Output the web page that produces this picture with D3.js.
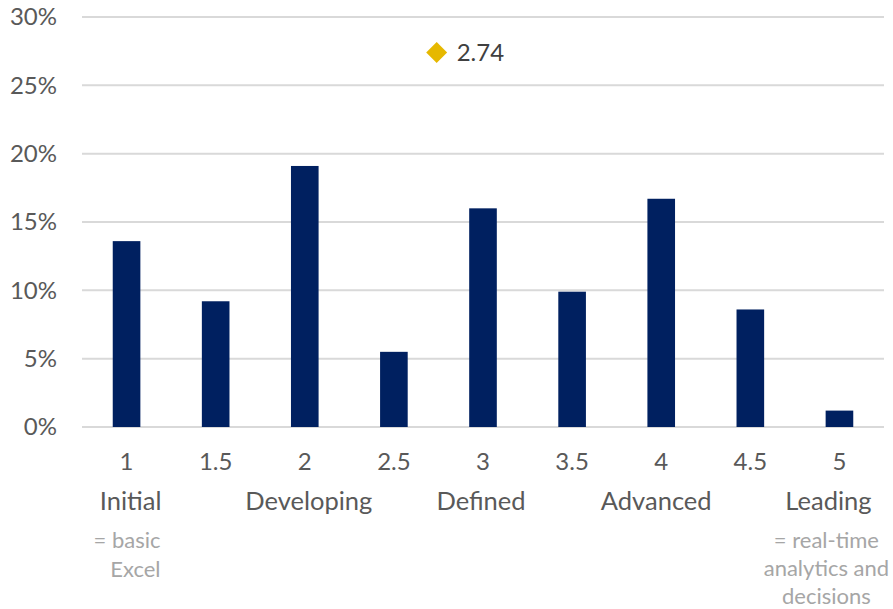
<!DOCTYPE html>
<html>
<head>
<meta charset="utf-8">
<script src="https://cdn.jsdelivr.net/npm/d3@7"></script>
<style>
  body { margin: 0; background: #fff; }
  text { font-family: Lato, "Open Sans", sans-serif; }
</style>
</head>
<body>
<div id="chart"></div>
<script>
// data
const levels = ["1", "1.5", "2", "2.5", "3", "3.5", "4", "4.5", "5"];
const shares = [13.6, 9.2, 19.1, 5.5, 16.0, 9.9, 16.7, 8.6, 1.2];
const yTicks = [0, 5, 10, 15, 20, 25, 30];
const stageNames = ["Initial", "Developing", "Defined", "Advanced", "Leading"];
const stageLevels = [1, 2, 3, 4, 5];
const stageNudge = [4, 4, -2, -5, -11];  // text boxes sit a bit off centre
const averageLevel = 2.74;
const averageY = 27.4;

const W = 893, H = 609;
const margin = { top: 17, right: 9, bottom: 182, left: 82 };
const width = W - margin.left - margin.right;
const height = H - margin.top - margin.bottom;

const svg = d3.select("#chart").append("svg")
    .attr("width", W)
    .attr("height", H);

const g = svg.append("g")
    .attr("transform", `translate(${margin.left},${margin.top})`);

const x = d3.scaleBand().domain(levels).range([0, width]).paddingInner(0.69).paddingOuter(0.345);
const y = d3.scaleLinear().domain([0, 30]).range([height, 0]);

// linear scale for the level value, lined up with the band centres
const xLevel = d3.scaleLinear()
    .domain([1, 5])
    .range([x("1") + x.bandwidth() / 2, x("5") + x.bandwidth() / 2]);

// gridlines
g.selectAll(".grid")
    .data(yTicks)
    .enter().append("line")
    .attr("class", "grid")
    .attr("x1", 0)
    .attr("x2", width)
    .attr("y1", d => y(d))
    .attr("y2", d => y(d))
    .attr("stroke", "#d9d9d9")
    .attr("stroke-width", 2);

// y axis labels
const yAxis = g.append("g")
    .call(d3.axisLeft(y).tickValues(yTicks).tickFormat(d => d + "%").tickSize(0).tickPadding(25));
yAxis.select(".domain").remove();
yAxis.selectAll("text")
    .attr("fill", "#595959")
    .style("font-size", "24px")
    .style("font-family", "Lato, sans-serif");

// bars
g.selectAll(".bar")
    .data(shares)
    .enter().append("rect")
    .attr("class", "bar")
    .attr("x", (d, i) => x(levels[i]))
    .attr("width", x.bandwidth())
    .attr("y", d => y(d))
    .attr("height", d => y(0) - y(d))
    .attr("fill", "#002060");

// x axis tick labels
const xAxis = g.append("g")
    .attr("transform", `translate(0,${height})`)
    .call(d3.axisBottom(x).tickSize(0).tickPadding(26));
xAxis.select(".domain").remove();
xAxis.selectAll("text")
    .attr("fill", "#595959")
    .style("font-size", "24px")
    .style("font-family", "Lato, sans-serif");

// stage names
g.selectAll(".stage")
    .data(stageNames)
    .enter().append("text")
    .attr("class", "stage")
    .attr("x", (d, i) => xLevel(stageLevels[i]) + stageNudge[i])
    .attr("y", height + 83)
    .attr("text-anchor", "middle")
    .attr("fill", "#595959")
    .style("font-size", "25.5px")
    .text(d => d);

// grey notes under first and last stage
const noteLeft = ["= basic", "Excel"];
const noteRight = ["= real-time", "analytics and", "decisions"];

g.append("text")
    .attr("x", xLevel(1) + 34)
    .attr("y", height + 121)
    .attr("text-anchor", "end")
    .attr("fill", "#a6a6a6")
    .style("font-size", "22px")
    .selectAll("tspan")
    .data(noteLeft)
    .enter().append("tspan")
    .attr("x", xLevel(1) + 34)
    .attr("dy", (d, i) => i === 0 ? 0 : 29)
    .text(d => d);

g.append("text")
    .attr("x", xLevel(5) - 13)
    .attr("y", height + 121)
    .attr("text-anchor", "middle")
    .attr("fill", "#a6a6a6")
    .style("font-size", "22px")
    .selectAll("tspan")
    .data(noteRight)
    .enter().append("tspan")
    .attr("x", xLevel(5) - 13)
    .attr("dy", (d, i) => i === 0 ? 0 : 28)
    .text(d => d);

// average marker
g.append("path")
    .attr("d", d3.symbol(d3.symbolSquare, 220)())
    .attr("transform", `translate(${xLevel(averageLevel)},${y(averageY)}) rotate(45)`)
    .attr("fill", "#e6b800");

g.append("text")
    .attr("x", xLevel(averageLevel) + 20)
    .attr("y", y(averageY))
    .attr("dy", "0.36em")
    .attr("fill", "#404040")
    .style("font-size", "24px")
    .text(averageLevel.toFixed(2));
</script>
</body>
</html>
